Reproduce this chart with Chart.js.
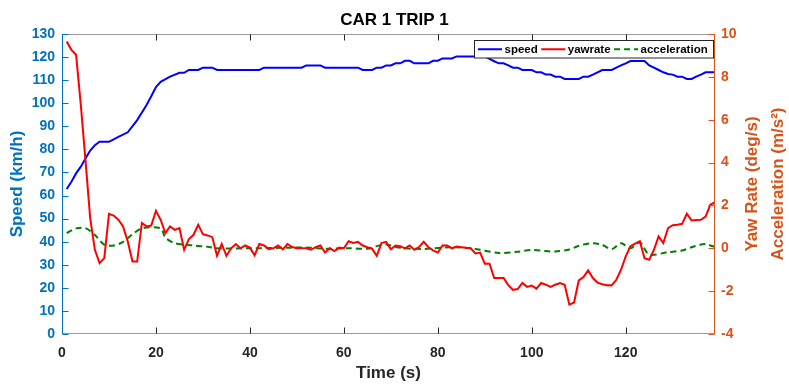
<!DOCTYPE html>
<html>
<head>
<meta charset="utf-8">
<script src="https://cdn.jsdelivr.net/npm/chart.js@4.4.1/dist/chart.umd.min.js"></script>
<style>
html,body{margin:0;padding:0;background:#ffffff;}
#wrap{width:789px;height:384px;position:relative;}
</style>
</head>
<body>
<div id="wrap"><canvas id="c" width="789" height="384"></canvas></div>
<script>
// ---------------- data ----------------
const chartTitle = 'CAR 1 TRIP 1';
const seriesNames = ['speed', 'yawrate', 'acceleration'];
const xTitle = 'Time (s)';
const leftTitle = 'Speed (km/h)';
const rightTitles = ['Yaw Rate (deg/s)', 'Acceleration (m/s\u00B2)'];

const xTicks = [0, 20, 40, 60, 80, 100, 120];
const speedTicks = [0, 10, 20, 30, 40, 50, 60, 70, 80, 90, 100, 110, 120, 130];
const rateTicks = [-4, -2, 0, 2, 4, 6, 8, 10];

// speed (km/h) – breakpoints of the stepped trace
const speedTime = [1,2,3,4,5,6,7,8,10,12,14,16,18,19,20,21,23,25,26,27,29,30,32,33,42,43,51,52,55,56,63,64,66,67,68,69,70,71,72,73,74,75,78,79,80,81,83,84,90,91,92,93,94,95,96,97,98,100,101,102,103,104,105,106,107,110,111,112,113,114,115,117,118,119,120,121,124,125,126,127,128,129,130,131,132,133,134,135,136,137,139];
const speedVals = [62.8,66,69.6,72.5,76,79.5,81.8,83.3,83.3,85.4,87.4,92.7,99.2,103,107,109.3,111.5,113.2,113.2,114.4,114.4,115.4,115.4,114.4,114.4,115.4,115.4,116.4,116.4,115.4,115.4,114.4,114.4,115.4,115.4,116.4,116.4,117.3,117.3,118.4,118.4,117.3,117.3,118.4,118.4,119.4,119.4,120.3,120.3,119.2,118.2,117.3,117.3,116.4,115.4,115.4,114.4,114.4,113.4,113.4,112.4,112.4,111.5,111.5,110.5,110.5,111.5,111.5,112.4,113.4,114.4,114.4,115.4,116.4,117.3,118.3,118.3,116.4,115.4,114.4,113.4,112.7,112.4,111.5,111.5,110.5,110.5,111.5,112.4,113.4,113.4];

// yaw rate (deg/s), one sample per second
const yawTime = [1,2,3,4,5,6,7,8,9,10,11,12,13,14,15,16,17,18,19,20,21,22,23,24,25,26,27,28,29,30,31,32,33,34,35,36,37,38,39,40,41,42,43,44,45,46,47,48,49,50,51,52,53,54,55,56,57,58,59,60,61,62,63,64,65,66,67,68,69,70,71,72,73,74,75,76,77,78,79,80,81,82,83,84,85,86,87,88,89,90,91,92,93,94,95,96,97,98,99,100,101,102,103,104,105,106,107,108,109,110,111,112,113,114,115,116,117,118,119,120,121,122,123,124,125,126,127,128,129,130,131,132,133,134,135,136,137,138,139];
const yawVals = [9.65,9.26,9.03,6.7,4.1,1.41,-0.07,-0.69,-0.46,1.61,1.53,1.33,1.02,0.32,-0.62,-0.62,1.18,1.02,1.06,1.75,1.33,0.71,1.02,0.86,0.94,-0.07,0.43,0.63,1.1,0.66,0.6,0.52,-0.35,0.2,-0.35,0,0.2,0,0.13,0.03,-0.33,0.2,0.13,-0.04,0,0.13,-0.05,0.2,0.06,0,0,0,-0.07,0.05,0.13,-0.2,0,-0.13,0.03,0,0.33,0.25,0.3,0.13,0.05,-0.02,-0.35,0.24,0.3,-0.05,0.13,0.1,0,0.13,-0.07,0.06,0.3,0.05,-0.1,-0.2,0.13,0.13,0,0.08,0.05,0.02,0,-0.24,-0.2,-0.72,-0.72,-1.39,-1.39,-1.39,-1.72,-1.94,-1.9,-1.62,-1.8,-1.74,-1.88,-1.62,-1.7,-1.8,-1.7,-1.62,-1.7,-2.63,-2.53,-1.5,-1.34,-1.03,-1.39,-1.6,-1.68,-1.72,-1.73,-1.47,-1.0,-0.38,0.1,0.22,0.33,-0.46,-0.54,-0.07,0.55,0.24,0.94,1.08,1.1,1.14,1.61,1.3,1.32,1.33,1.48,2.03,2.15];

// acceleration (m/s^2) – breakpoints of the smooth trace
const accTime = [1,3,5,7,9,11,13,15,17,21,22,24,28,31,33,40,49,53,56,61,65,67,69,71,73,77,83,87,89,93,97,100,103,105,108,110,113,115,117,119,121,123,125,129,132,134,136,137,139];
const accVals = [0.71,0.93,0.94,0.62,0.17,0.13,0.3,0.65,0.93,0.93,0.5,0.24,0.13,0.07,0,0,0.03,0.03,-0.02,0,-0.02,0.1,0.18,0.06,0,-0.03,0.05,0,-0.07,-0.22,-0.16,-0.08,-0.13,-0.15,-0.06,0.12,0.24,0.16,-0.04,0.24,0,0.27,-0.29,-0.18,-0.1,0.05,0.18,0.2,0.06];

// ---------------- styling ----------------
const FONT = '"Liberation Sans", Arial, Helvetica, sans-serif';
const LEFT_COLOR = '#0072BD';
const RIGHT_COLOR = '#D95319';
const X_COLOR = '#262626';
const seriesColors = ['#0000FF', '#FF0000', '#008000'];

function pts(xs, ys) { return xs.map((x, i) => ({ x: x, y: ys[i] })); }
function fixedTicks(arr) { return function (scale) { scale.ticks = arr.map(v => ({ value: v })); }; }

const framePlugin = {
  id: 'frame',
  afterDatasetsDraw(chart) {
    const ctx = chart.ctx;
    const a = chart.chartArea;
    const sx = chart.scales.x, sy = chart.scales.y, sr = chart.scales.y1;
    const L = Math.round(a.left) + 0.5, R = Math.round(a.right) - 0.5;
    const T = Math.round(a.top) + 0.5, B = Math.round(a.bottom) - 0.5;
    const tl = 6;
    ctx.save();
    ctx.lineWidth = 1;
    ctx.strokeStyle = '#9a9a9a';
    ctx.beginPath(); ctx.moveTo(L, T); ctx.lineTo(R, T); ctx.moveTo(L, B); ctx.lineTo(R, B); ctx.stroke();
    ctx.strokeStyle = X_COLOR;
    ctx.beginPath();
    xTicks.forEach(v => {
      const px = Math.round(sx.getPixelForValue(v)) + 0.5;
      ctx.moveTo(px, T); ctx.lineTo(px, T + tl);
      ctx.moveTo(px, B); ctx.lineTo(px, B - tl);
    });
    ctx.stroke();
    ctx.strokeStyle = LEFT_COLOR;
    ctx.beginPath(); ctx.moveTo(L, T - 0.5); ctx.lineTo(L, B + 0.5);
    speedTicks.forEach(v => {
      const py = Math.round(sy.getPixelForValue(v)) + 0.5;
      ctx.moveTo(L, py); ctx.lineTo(L + tl, py);
    });
    ctx.stroke();
    ctx.strokeStyle = RIGHT_COLOR;
    ctx.beginPath(); ctx.moveTo(R, T - 0.5); ctx.lineTo(R, B + 0.5);
    rateTicks.forEach(v => {
      const py = Math.round(sr.getPixelForValue(v)) + 0.5;
      ctx.moveTo(R, py); ctx.lineTo(R - tl, py);
    });
    ctx.stroke();

    // legend box (inside plot, top right)
    ctx.font = 'bold 11.5px ' + FONT;
    ctx.textBaseline = 'middle';
    const sample = 24, gapTxt = 2.5, gapItem = 3.5, padL = 3.5, padR = 6.5;
    const widths = seriesNames.map(n => ctx.measureText(n).width);
    let total = padL + padR;
    widths.forEach((w, i) => { total += sample + gapTxt + w + (i < widths.length - 1 ? gapItem : 0); });
    const boxR = Math.round(a.right - 2.5) + 0.5;
    const boxL = Math.round(boxR - total) + 0.5;
    const boxT = Math.round(a.top + 6) + 0.5;
    const boxB = boxT + 17.5;
    ctx.fillStyle = '#ffffff';
    ctx.fillRect(boxL, boxT, boxR - boxL, boxB - boxT);
    ctx.strokeStyle = '#262626';
    ctx.lineWidth = 1;
    ctx.strokeRect(boxL, boxT, boxR - boxL, boxB - boxT);
    const cy = (boxT + boxB) / 2;
    let x = boxL + padL;
    chart.data.datasets.forEach((ds, i) => {
      ctx.save();
      ctx.strokeStyle = ds.borderColor;
      ctx.lineWidth = 2;
      ctx.setLineDash(ds.borderDash || []);
      ctx.beginPath(); ctx.moveTo(x, cy); ctx.lineTo(x + sample, cy); ctx.stroke();
      ctx.restore();
      x += sample + gapTxt;
      ctx.fillStyle = '#000000';
      ctx.fillText(seriesNames[i], x, cy + 0.5);
      x += widths[i] + gapItem;
    });
    ctx.restore();
  },
  afterDraw(chart) {
    const ctx = chart.ctx;
    const a = chart.chartArea;
    const cy = (a.top + a.bottom) / 2;
    ctx.save();
    ctx.fillStyle = RIGHT_COLOR;
    ctx.font = 'bold 17px ' + FONT;
    ctx.textAlign = 'center';
    ctx.textBaseline = 'middle';
    const xs = [752, 778];
    rightTitles.forEach((t, i) => {
      ctx.save();
      ctx.translate(xs[i], cy);
      ctx.rotate(-Math.PI / 2);
      ctx.fillText(t, 0, 0);
      ctx.restore();
    });
    ctx.restore();
  }
};

const tickFont = { family: FONT, size: 14, weight: 'bold' };
const titleFont = { family: FONT, size: 17, weight: 'bold' };

new Chart(document.getElementById('c'), {
  type: 'line',
  data: {
    datasets: [
      { label: seriesNames[0], data: pts(speedTime, speedVals), yAxisID: 'y', borderColor: seriesColors[0], borderWidth: 2, pointRadius: 0, tension: 0, order: 3 },
      { label: seriesNames[1], data: pts(yawTime, yawVals), yAxisID: 'y1', borderColor: seriesColors[1], borderWidth: 2, pointRadius: 0, tension: 0, order: 1 },
      { label: seriesNames[2], data: pts(accTime, accVals), yAxisID: 'y1', borderColor: seriesColors[2], borderWidth: 2, borderDash: [6, 4], pointRadius: 0, tension: 0.3, order: 2 }
    ]
  },
  options: {
    responsive: false,
    animation: false,
    devicePixelRatio: 1,
    layout: { padding: 0 },
    plugins: {
      legend: { display: false },
      tooltip: { enabled: false },
      title: { display: true, text: chartTitle, color: '#000000', font: { family: FONT, size: 17, weight: 'bold' }, padding: { top: 10, bottom: 3.6 } }
    },
    scales: {
      x: {
        type: 'linear', position: 'bottom', min: 0, max: 139,
        afterBuildTicks: fixedTicks(xTicks),
        afterFit(s) { s.height = 50; },
        grid: { display: false, drawTicks: false },
        border: { display: false },
        ticks: { color: X_COLOR, font: tickFont, padding: 11, maxRotation: 0, autoSkip: false },
        title: { display: true, text: xTitle, color: X_COLOR, font: titleFont, padding: { top: 0, bottom: 0 } }
      },
      y: {
        type: 'linear', position: 'left', min: 0, max: 130,
        afterBuildTicks: fixedTicks(speedTicks),
        afterFit(s) { s.width = 62; },
        grid: { display: false, drawTicks: false },
        border: { display: false },
        ticks: { color: LEFT_COLOR, font: tickFont, padding: 7, autoSkip: false },
        title: { display: true, text: leftTitle, color: LEFT_COLOR, font: titleFont, padding: { top: 7, bottom: 0 } }
      },
      y1: {
        type: 'linear', position: 'right', min: -4, max: 10,
        afterBuildTicks: fixedTicks(rateTicks),
        afterFit(s) { s.width = 74; },
        grid: { display: false, drawTicks: false },
        border: { display: false },
        ticks: { color: RIGHT_COLOR, font: tickFont, padding: 6, autoSkip: false }
      }
    }
  },
  plugins: [framePlugin]
});
</script>
</body>
</html>
